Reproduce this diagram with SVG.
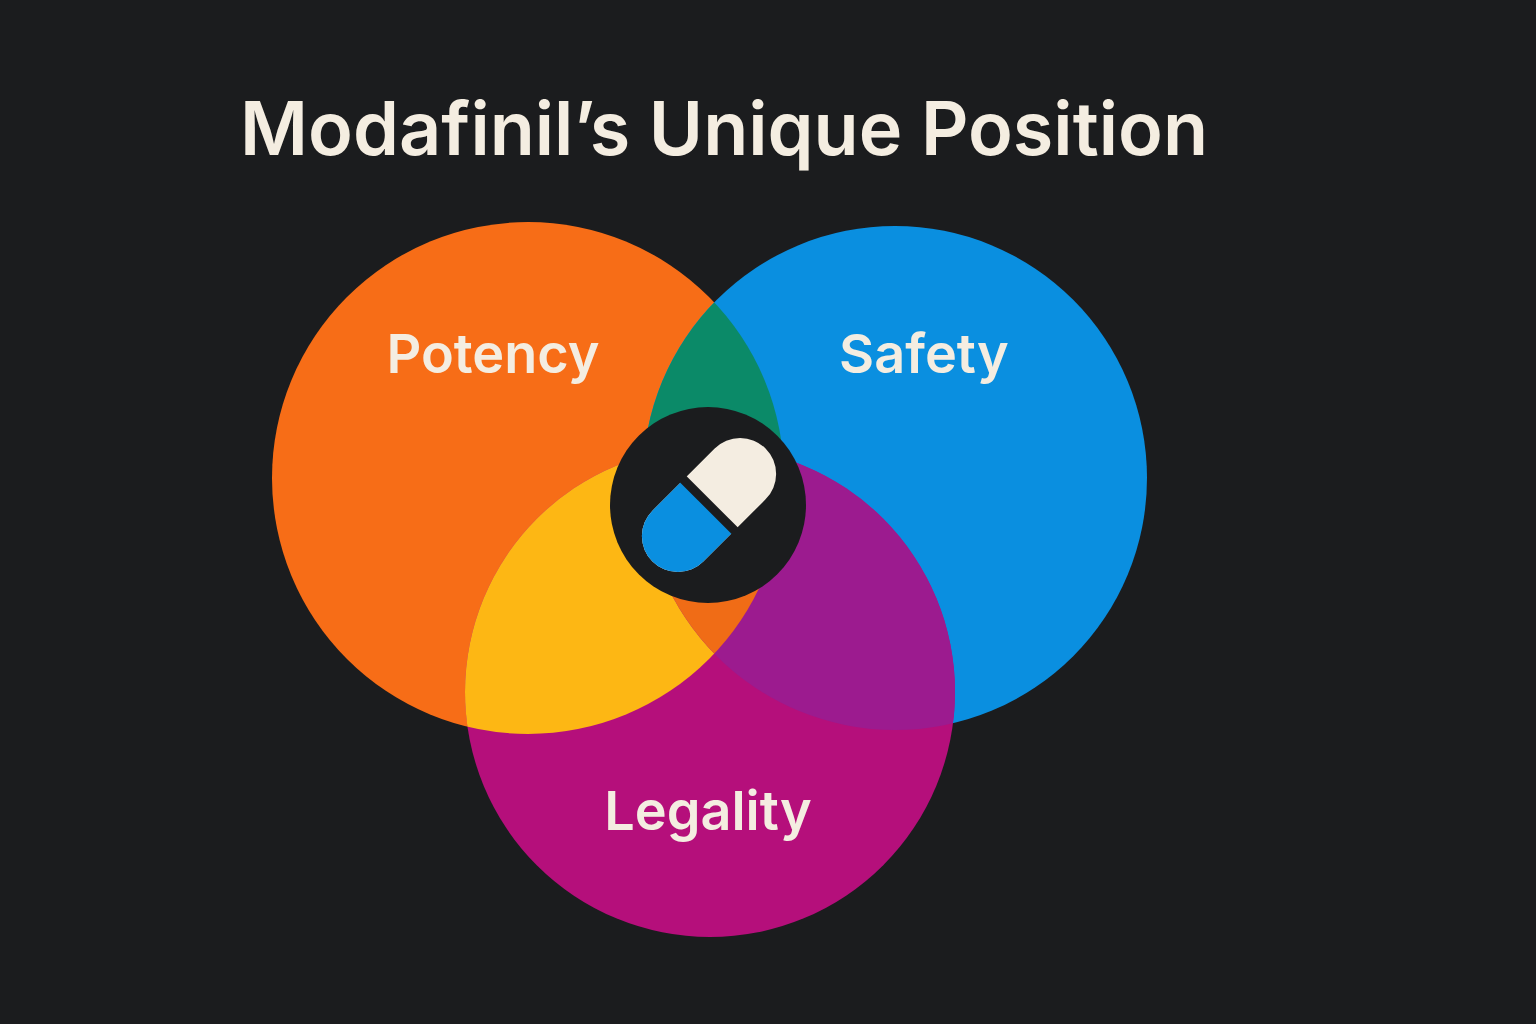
<svg xmlns="http://www.w3.org/2000/svg" width="1536" height="1024" viewBox="0 0 1536 1024">
<style>
.t{font-family:Inter,"Noto Sans","Liberation Sans",sans-serif;font-weight:600;fill:#f4ede1;text-anchor:middle}
</style>
<defs>
<clipPath id="cO"><circle cx="528" cy="478" r="256"/></clipPath>
<clipPath id="cB"><circle cx="895" cy="478" r="252"/></clipPath>
</defs>
<rect width="1536" height="1024" fill="#1b1c1e"/>
<text class="t" x="724" y="155" font-size="74" textLength="968" lengthAdjust="spacingAndGlyphs">Modafinil’s Unique Position</text>
<g id="potency"><circle cx="528" cy="478" r="256" fill="#f76d17"/></g>
<g id="safety"><circle cx="895" cy="478" r="252" fill="#0a8fe0"/></g>
<g id="legality"><circle cx="710" cy="692" r="245" fill="#b50f7b"/></g>
<g id="overlaps">
<g clip-path="url(#cO)"><circle cx="895" cy="478" r="252" fill="#0b8a68"/><circle cx="710" cy="692" r="245" fill="#fdb714"/></g>
<g clip-path="url(#cB)"><circle cx="710" cy="692" r="245" fill="#9c1b8f"/></g>
<g clip-path="url(#cO)"><g clip-path="url(#cB)"><circle cx="710" cy="692" r="245" fill="#f06c16"/></g></g>
</g>
<text class="t" x="493" y="373" font-size="54">Potency</text>
<text class="t" x="924" y="373" font-size="54">Safety</text>
<text class="t" x="708" y="830" font-size="54">Legality</text>
<g id="pill">
<circle cx="708" cy="505" r="98" fill="#1b1c1e"/>
<g transform="rotate(-45 709 505)">
<rect x="629" y="469" width="160" height="72" rx="36" fill="#f4ede1"/>
<path d="M709 469 H665 A36 36 0 0 0 665 541 H709 Z" fill="#0a8fe0"/>
<line x1="709" y1="465" x2="709" y2="545" stroke="#1b1c1e" stroke-width="9"/>
</g>
</g>
</svg>
